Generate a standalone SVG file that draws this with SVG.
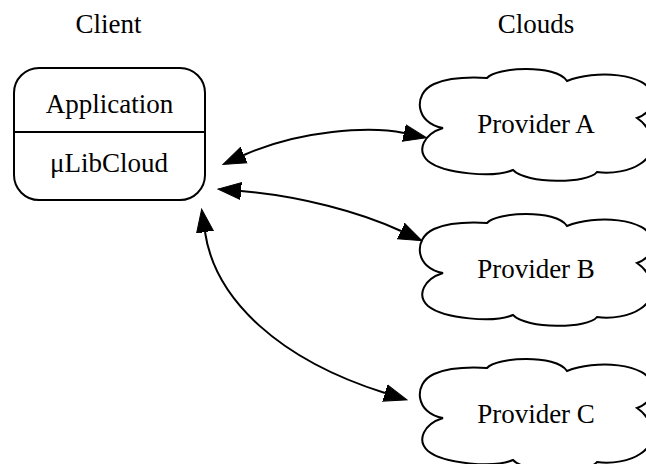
<svg xmlns="http://www.w3.org/2000/svg" xmlns:xlink="http://www.w3.org/1999/xlink" width="646" height="464" viewBox="0 0 646 464">
  <style>
    text { font-family: "Liberation Serif", "Times New Roman", serif; font-size: 27px; fill: #000; text-anchor: middle; }
    .shape { fill: #fff; stroke: #000; stroke-width: 2; }
    .edge { fill: none; stroke: #000; stroke-width: 2; marker-start: url(#arrow); marker-end: url(#arrow); }
  </style>
  <defs>
    <marker id="arrow" markerUnits="userSpaceOnUse" markerWidth="26" markerHeight="20" viewBox="0 -10 26 20" refX="0" refY="0" orient="auto-start-reverse">
      <path d="M0,-8.5 L23,0 L0,8.5 Z" fill="#000" stroke="#000" stroke-width="1"/>
    </marker>
    <!-- cloud outline centred on (0,0) -->
    <path id="cloud" d="M -93,4
      C -120,0 -124,-30 -102,-40
      C -88,-46 -66,-47 -49,-46
      C -40,-57 20,-60 31,-43
      C 58,-54 112,-52 117,-28
      C 119,-18 110,-9 101,-6
      C 116,4 124,28 104,40
      C 94,47 76,50 61,48
      C 52,60 -10,60 -23,46
      C -42,54 -92,50 -108,37
      C -120,26 -112,10 -93,4 Z"/>
  </defs>

  <!-- column headings -->
  <text x="108.5" y="33">Client</text>
  <text x="536" y="33">Clouds</text>

  <!-- client stack -->
  <g id="client">
    <rect class="shape" x="14" y="68" width="191" height="132" rx="25" ry="25"/>
    <line x1="14" y1="132" x2="205" y2="132" stroke="#000" stroke-width="2"/>
    <text x="109.5" y="113">Application</text>
    <text x="109" y="172">μLibCloud</text>
  </g>

  <!-- cloud providers -->
  <g id="provider-a">
    <use xlink:href="#cloud" class="shape" transform="translate(536,124)"/>
    <text x="536" y="133">Provider A</text>
  </g>
  <g id="provider-b">
    <use xlink:href="#cloud" class="shape" transform="translate(536,269)"/>
    <text x="536" y="278">Provider B</text>
  </g>
  <g id="provider-c">
    <use xlink:href="#cloud" class="shape" transform="translate(536,414)"/>
    <text x="536" y="423">Provider C</text>
  </g>

  <!-- bidirectional links -->
  <g id="connectors">
    <path class="edge" d="M 244,155 C 300,130 370,126 404,133"/>
    <path class="edge" d="M 241,191 C 300,196 360,212 401,231"/>
    <path class="edge" d="M 205,232 C 215,300 280,360 385,393"/>
  </g>
</svg>
